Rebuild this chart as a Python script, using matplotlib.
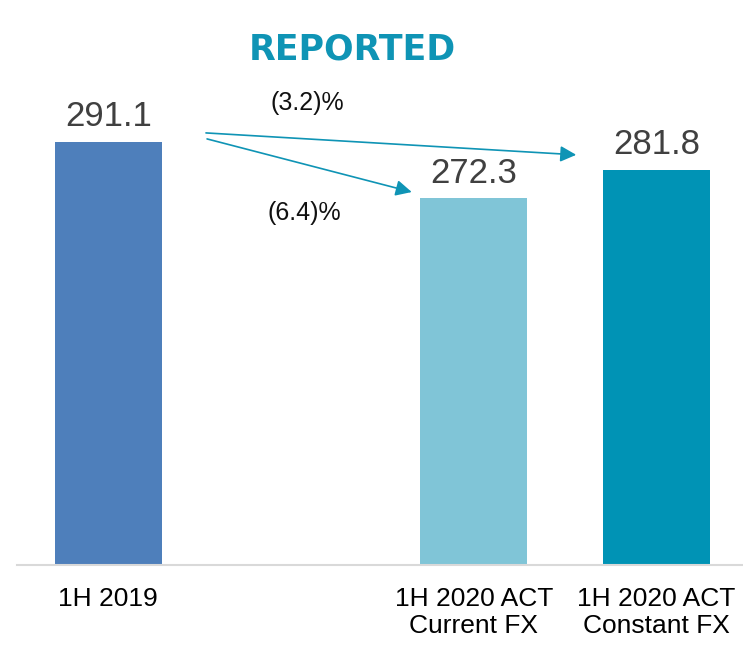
import matplotlib
matplotlib.use('Agg')
import matplotlib.pyplot as plt

plt.rcParams['font.family'] = ['Liberation Sans', 'DejaVu Sans']

# data
categories = ['1H 2019', '', '1H 2020 ACT\nCurrent FX', '1H 2020 ACT\nConstant FX']
values = [291.1, None, 272.3, 281.8]
value_labels = ['291.1', '', '272.3', '281.8']
colors = ['#4E7FBB', '#FFFFFF', '#80C5D7', '#0093B5']
changes = ['(3.2)%', '(6.4)%']

teal = '#0F94B5'

fig = plt.figure(figsize=(7.43, 6.47), dpi=100)
ax = fig.add_axes([17 / 743, 82 / 647, 731 / 743, 565 / 647])

pos = [i for i, v in enumerate(values) if v is not None]
vals = [v for v in values if v is not None]
cols = [colors[i] for i in pos]
ax.bar(pos, vals, width=0.586, color=cols, zorder=2)

for p, v in zip(pos, vals):
    ax.annotate(value_labels[p], (p, v), xytext=(0, 6), textcoords='offset points',
                ha='center', va='bottom', fontsize=25, color='#404040')

ax.set_xlim(-0.5, 3.5)
ax.set_ylim(150, 338.3)
ax.set_xticks(range(len(categories)))
ax.set_xticklabels(categories, fontsize=19, linespacing=1.15)
ax.tick_params(axis='x', length=0, pad=16)
ax.set_yticks([])
for s in ['top', 'right', 'left']:
    ax.spines[s].set_visible(False)
ax.spines['bottom'].set_color('#D9D9D9')
ax.spines['bottom'].set_linewidth(1.5)

# arrows from 1H 2019 bar to the two 2020 bars
arrow = dict(arrowstyle='-|>', color=teal, lw=1.2, mutation_scale=24,
             shrinkA=0, shrinkB=0)
ax.annotate('', xy=(3 - 0.44, values[3] + 4.9), xytext=(0.534, values[0] + 2.9),
            arrowprops=arrow)
ax.annotate('', xy=(2 - 0.34, values[2] + 2.0), xytext=(0.54, values[0] + 0.9),
            arrowprops=arrow)

ax.text(1.088, 304, changes[0], ha='center', va='center', fontsize=18, color='#111111')
ax.text(1.07, 267.3, changes[1], ha='center', va='center', fontsize=18, color='#111111')

fig.text(352 / 743, 1 - 49 / 647, 'REPORTED', ha='center', va='center',
         fontsize=25, fontweight='bold', color=teal, family='DejaVu Sans')

fig.savefig('out.png', dpi=100)
